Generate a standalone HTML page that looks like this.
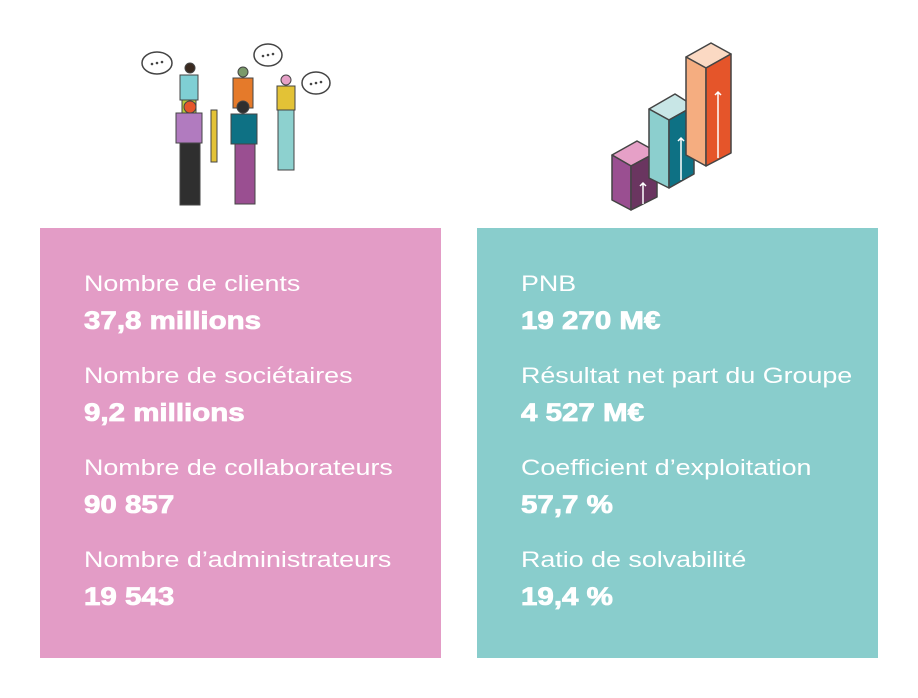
<!DOCTYPE html>
<html><head><meta charset="utf-8"><style>
body{margin:0;width:918px;height:698px;background:#fff;font-family:"Liberation Sans",sans-serif;position:relative;overflow:hidden}
.box{position:absolute;top:228px;width:401px;height:430px;color:#fff}
.l{position:absolute;left:44px;font-size:22px;transform:scaleX(1.22);transform-origin:0 0;white-space:nowrap}
.v{position:absolute;left:44px;font-size:25px;font-weight:bold;transform:scaleX(1.18);transform-origin:0 0;white-space:nowrap;-webkit-text-stroke:0.8px #fff}
</style></head><body>
<svg style="position:absolute;left:0;top:0" width="918" height="228">
<g stroke="#444" stroke-width="1.5" stroke-linejoin="round">
<polygon points="612,155 637,141 657,152 631,166" fill="#e6a0c7"/>
<polygon points="612,155 631,166 631,210 612,200" fill="#9a4f91"/>
<polygon points="631,166 657,152 657,197 631,210" fill="#6a3560"/>
<polygon points="649,109 675,94 694,106 669,120" fill="#c8e6e6"/>
<polygon points="649,109 669,120 669,188 649,178" fill="#8ccfce"/>
<polygon points="669,120 694,106 694,174 669,188" fill="#0e7184"/>
<polygon points="686,57 711,43 731,54 706,68" fill="#fbd9c3"/>
<polygon points="686,57 706,68 706,166 686,155" fill="#f5ad80"/>
<polygon points="706,68 731,54 731,153 706,166" fill="#e5552a"/>
</g>
<g stroke="#fff" stroke-width="1.5" fill="none">
<path d="M643,204 V183 M640,186 L643,183 646,186"/>
<path d="M681,180 V138 M678,141 L681,138 684,141"/>
<path d="M718,158 V92 M715,95 L718,92 721,95"/>
</g>
<g stroke="#444" stroke-width="1.5">
<ellipse cx="157" cy="63" rx="15" ry="11" fill="#fff"/>
<ellipse cx="268" cy="55" rx="14" ry="11" fill="#fff"/>
<ellipse cx="316" cy="83" rx="14" ry="11" fill="#fff"/>
</g>
<g fill="#444"><circle cx="152" cy="64" r="1.3"/><circle cx="157" cy="63" r="1.3"/><circle cx="162" cy="62" r="1.3"/>
<circle cx="263" cy="56" r="1.3"/><circle cx="268" cy="55" r="1.3"/><circle cx="273" cy="54" r="1.3"/>
<circle cx="311" cy="84" r="1.3"/><circle cx="316" cy="83" r="1.3"/><circle cx="321" cy="82" r="1.3"/></g>
<g stroke="#444" stroke-width="1">
<circle cx="190" cy="68" r="5" fill="#3a2a20"/><rect x="180" y="75" width="18" height="25" fill="#7fcfd4"/><rect x="182" y="100" width="14" height="30" fill="#b5c83a"/>
<circle cx="243" cy="72" r="5" fill="#7a9a6a"/><rect x="233" y="78" width="20" height="30" fill="#e57a2a"/>
<circle cx="286" cy="80" r="5" fill="#e6a0c7"/><rect x="277" y="86" width="18" height="24" fill="#e3c236"/><rect x="278" y="110" width="16" height="60" fill="#8dd1cf"/>
<circle cx="190" cy="107" r="6" fill="#e5552a"/><rect x="176" y="113" width="26" height="30" fill="#b17bbf"/><rect x="180" y="143" width="20" height="62" fill="#2f2f2f"/>
<rect x="211" y="110" width="6" height="52" fill="#e3c236"/>
<circle cx="243" cy="107" r="6" fill="#2f2f2f"/><rect x="231" y="114" width="26" height="30" fill="#0e7184"/><rect x="235" y="144" width="20" height="60" fill="#9a4f91"/>
</g>
</svg>
<div class="box" style="left:40px;background:#e39cc6">
<div class="l" style="top:43px">Nombre de clients</div><div class="v" style="top:79px">37,8 millions</div>
<div class="l" style="top:135px">Nombre de sociétaires</div><div class="v" style="top:171px">9,2 millions</div>
<div class="l" style="top:227px">Nombre de collaborateurs</div><div class="v" style="top:263px">90 857</div>
<div class="l" style="top:319px">Nombre d’administrateurs</div><div class="v" style="top:355px">19 543</div>
</div>
<div class="box" style="left:477px;background:#89cdcc">
<div class="l" style="top:43px">PNB</div><div class="v" style="top:79px">19 270 M€</div>
<div class="l" style="top:135px">Résultat net part du Groupe</div><div class="v" style="top:171px">4 527 M€</div>
<div class="l" style="top:227px">Coefficient d’exploitation</div><div class="v" style="top:263px">57,7 %</div>
<div class="l" style="top:319px">Ratio de solvabilité</div><div class="v" style="top:355px">19,4 %</div>
</div>
</body></html>
